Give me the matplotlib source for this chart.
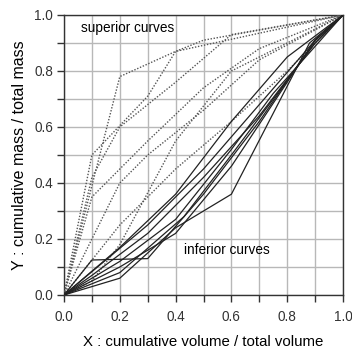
import matplotlib
matplotlib.use("Agg")
import matplotlib.pyplot as plt
import numpy as np

plt.rcParams['font.family'] = ['Liberation Sans', 'DejaVu Sans']

# Superior (dotted) mass-volume curves
sup_x = [
    [0, 0.2, 0.4, 0.5, 1.0],
    [0, 0.1, 0.3, 0.4, 1.0],
    [0, 0.1, 0.2, 0.4, 0.6, 1.0],
    [0, 0.1, 0.3, 0.5, 0.7, 1.0],
    [0, 0.2, 0.3, 0.5, 0.7, 1.0],
    [0, 0.2, 0.4, 0.6, 0.8, 1.0],
    [0, 0.1, 0.2, 0.4, 0.6, 1.0],
]
sup_y = [
    [0, 0.78, 0.87, 0.91, 1.0],
    [0, 0.50, 0.71, 0.87, 1.0],
    [0, 0.42, 0.60, 0.76, 0.93, 1.0],
    [0, 0.35, 0.55, 0.74, 0.88, 1.0],
    [0, 0.40, 0.50, 0.66, 0.84, 1.0],
    [0, 0.25, 0.45, 0.62, 0.80, 1.0],
    [0, 0.05, 0.18, 0.55, 0.80, 1.0],
]

# Inferior (solid) mass-volume curves
inf_x = [
    [0, 0.1, 0.3, 0.5, 0.7, 0.9, 1.0],
    [0, 0.2, 0.4, 0.6, 0.88, 1.0],
    [0, 0.2, 0.4, 0.6, 0.9, 1.0],
    [0, 0.2, 0.4, 0.6, 0.8, 1.0],
    [0, 0.3, 0.5, 0.7, 0.9, 1.0],
    [0, 0.2, 0.43, 0.6, 0.9, 1.0],
    [0, 0.1, 0.3, 0.5, 0.7, 0.9, 1.0],
    [0, 0.2, 0.4, 0.6, 0.75, 1.0],
]
inf_y = [
    [0, 0.125, 0.13, 0.36, 0.62, 0.91, 1.0],
    [0, 0.06, 0.24, 0.36, 0.90, 1.0],
    [0, 0.10, 0.22, 0.46, 0.91, 1.0],
    [0, 0.17, 0.36, 0.62, 0.85, 1.0],
    [0, 0.25, 0.45, 0.68, 0.91, 1.0],
    [0, 0.08, 0.28, 0.50, 0.90, 1.0],
    [0, 0.07, 0.22, 0.42, 0.64, 0.90, 1.0],
    [0, 0.12, 0.27, 0.52, 0.72, 1.0],
]

ticks = [0.0, 0.2, 0.4, 0.6, 0.8, 1.0]
tick_labels = ['0.0', '0.2', '0.4', '0.6', '0.8', '1.0']

fig = plt.figure(figsize=(3.52, 3.51), dpi=100)
ax = fig.add_axes([64 / 352, 1 - 295 / 351, 279 / 352, 280 / 351])

for xs, ys in zip(sup_x, sup_y):
    ax.plot(xs, ys, color='#555555', lw=1.0, linestyle=(0, (1, 1.2)), zorder=3)
for xs, ys in zip(inf_x, inf_y):
    ax.plot(xs, ys, color='#222222', lw=0.9, zorder=4)

ax.set_xlim(0, 1)
ax.set_ylim(0, 1)
ax.set_xticks(ticks)
ax.set_yticks(ticks)
ax.set_xticklabels(tick_labels)
ax.set_yticklabels(tick_labels)
ax.set_xticks(np.arange(0.1, 1.0, 0.2), minor=True)
ax.set_yticks(np.arange(0.1, 1.0, 0.2), minor=True)
ax.grid(True, which='both', color='#b8b8b8', lw=1.0, zorder=0)
ax.set_axisbelow(True)
ax.tick_params(which='both', direction='out', length=5, width=1, labelsize=9.8,
               pad=3, colors='#333333')
ax.tick_params(axis='x', which='both', pad=6)
for s in ax.spines.values():
    s.set_linewidth(1.0)
    s.set_color('#333333')

ax.set_xlabel('X : cumulative volume / total volume', fontsize=10.8, labelpad=8)
ax.set_ylabel('Y : cumulative mass / total mass', fontsize=11.5, labelpad=5)

ax.text(0.06, 0.955, 'superior curves', fontsize=9.8, va='center', ha='left')
ax.text(0.43, 0.16, 'inferior curves', fontsize=9.8, va='center', ha='left')

fig.savefig('out.png', dpi=100)
